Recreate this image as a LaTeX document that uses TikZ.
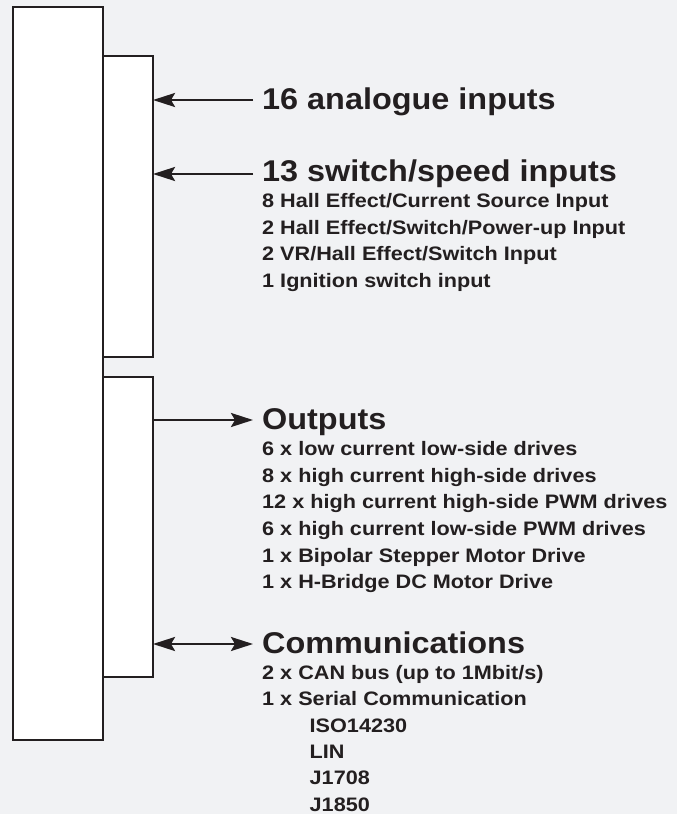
\documentclass[tikz,border=0pt]{standalone}
\usepackage{fontspec}
\usepackage{xcolor}
\setmainfont{Liberation Sans}
\newfontfamily\headfont{Liberation Sans}[FakeStretch=1.08]
\newfontfamily\listfont{Liberation Sans}[FakeStretch=1.11]
\usetikzlibrary{arrows.meta}
\definecolor{ink}{HTML}{231F20}
\definecolor{paper}{HTML}{F1F2F4}
\tikzset{tip/.tip={Stealth[length=22pt,width=14pt,inset=4pt]}}

\begin{document}
\begin{tikzpicture}[x=1pt,y=-1pt,
		box/.style={draw=ink,fill=white,line width=2.5pt,inner sep=0pt,outer sep=0pt},
		head/.style={anchor=base west,inner sep=0pt,text=ink,font=\headfont\bfseries\fontsize{30}{36}\selectfont},
		item/.style={anchor=base west,inner sep=0pt,text=ink,font=\listfont\bfseries\fontsize{19.5}{24}\selectfont},
		link/.style={draw=ink,line width=2.5pt}]
		\path[use as bounding box,fill=paper] (0,0) rectangle (677,814);
		\node[box,minimum width=90pt,minimum height=733pt] (ecu) at (58,373.5) {};
		\node[box,minimum width=50pt,minimum height=301pt] (inbox) at (128,206.5) {};
		\node[box,minimum width=50pt,minimum height=300pt] (outbox) at (128,527) {};
		% inputs
		\coordinate (anaEnd) at (253,100);
		\coordinate (swEnd) at (253,174);
		\draw[link,-tip] (anaEnd) -- (inbox.east |- anaEnd);
		\draw[link,-tip] (swEnd) -- (inbox.east |- swEnd);
		\node[head] (ana) at (262,109) {16 analogue inputs};
		\node[head] (sw) at (262,181) {13 switch/speed inputs};
		\foreach \t [count=\i] in {8 Hall Effect/Current Source Input, 2 Hall Effect/Switch/Power-up Input, 2 VR/Hall Effect/Switch Input, 1 Ignition switch input}
			\node[item] (sw\i) at (262,181+26.5*\i) {\t};
		% outputs
		\coordinate (outEnd) at (253,420);
		\coordinate (comEnd) at (253,644);
		\draw[link,-tip] (outbox.east |- outEnd) -- (outEnd);
		\draw[link,tip-tip] (outbox.east |- comEnd) -- (comEnd);
		\node[head] (out) at (262,429) {Outputs};
		\foreach \t [count=\i] in {6 x low current low-side drives, 8 x high current high-side drives, 12 x high current high-side PWM drives, 6 x high current low-side PWM drives, 1 x Bipolar Stepper Motor Drive, 1 x H-Bridge DC Motor Drive}
			\node[item] (out\i) at (262,429+26.65*\i) {\t};
		\node[head] (com) at (262,653.3) {Communications};
		\foreach \t [count=\i] in {{2 x CAN bus (up to 1Mbit/s)}, 1 x Serial Communication}
			\node[item] (com\i) at (262,653.3+26.3*\i) {\t};
		\foreach \t [count=\i from 3] in {ISO14230, LIN, J1708, J1850}
			\node[item] (com\i) at (309.5,653.3+26.3*\i) {\t};
	\end{tikzpicture}
\end{document}
